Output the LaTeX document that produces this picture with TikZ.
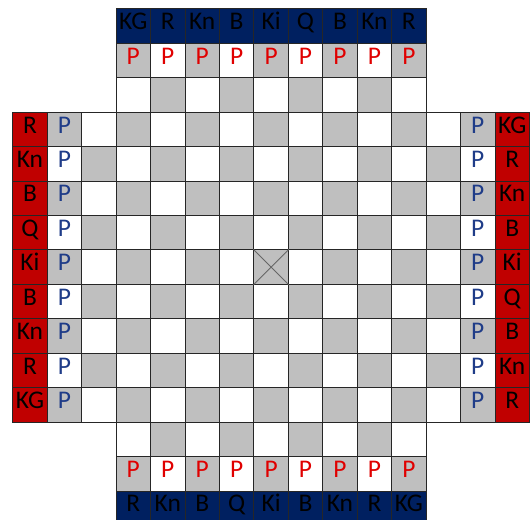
\documentclass[tikz,border=0pt]{standalone}
\usepackage{fontspec}
\setmainfont{Carlito}
\usetikzlibrary{positioning}
\definecolor{boardgray}{HTML}{BFBFBF}
\definecolor{armyblue}{HTML}{002060}
\definecolor{armyred}{HTML}{C00000}
\definecolor{pawnred}{HTML}{E00000}
\definecolor{pawnblue}{HTML}{1F3C88}

\begin{document}
\begin{tikzpicture}[
    x=1cm, y=-1cm,
    square/.style={rectangle, draw=black!85, line width=0.7pt, minimum size=1cm, inner sep=0pt,
        anchor=north west, font=\fontsize{21}{21}\selectfont, text height=0.62em, text depth=0pt},
    tone0/.style={square, fill=boardgray},
    tone1/.style={square, fill=white},
    bluepiece/.style={square, fill=armyblue},
    redpiece/.style={square, fill=armyred},
    pawn/.style={font=\fontsize{21}{21}\selectfont, inner sep=0pt, text height=0.62em, text depth=0pt},
    redpawn/.style={pawn, text=pawnred},
    bluepawn/.style={pawn, text=pawnblue},
    cross/.style={draw=black!60, line width=0.8pt}
]
\useasboundingbox (-0.357,-0.241) rectangle (15.028,14.853);
\clip (-0.357,-0.241) rectangle (15.028,14.853);

% checkered squares: centre band, then the two side arms
\foreach \c in {3,...,11}
  \foreach \r in {1,...,13} {
    \pgfmathtruncatemacro\tone{mod(\c+\r,2)}
    \node[tone\tone] (sq-\c-\r) at (\c,\r) {};
  }
\foreach \c in {1,2,12,13}
  \foreach \r in {3,...,11} {
    \pgfmathtruncatemacro\tone{mod(\c+\r,2)}
    \node[tone\tone] (sq-\c-\r) at (\c,\r) {};
  }

% back rows
\foreach \p [count=\c from 3] in {KG,R,Kn,B,Ki,Q,B,Kn,R}
  \node[bluepiece] (top-\c) at (\c,0) {\p};
\foreach \p [count=\c from 3] in {R,Kn,B,Q,Ki,B,Kn,R,KG}
  \node[bluepiece] (bot-\c) at (\c,14) {\p};
\foreach \p [count=\r from 3] in {R,Kn,B,Q,Ki,B,Kn,R,KG}
  \node[redpiece] (lft-\r) at (0,\r) {\p};
\foreach \p [count=\r from 3] in {KG,R,Kn,B,Ki,Q,B,Kn,R}
  \node[redpiece] (rgt-\r) at (14,\r) {\p};

% pawns
\foreach \c in {3,...,11} {
  \node[redpawn] at (sq-\c-1) {P};
  \node[redpawn] at (sq-\c-13) {P};
}
\foreach \r in {3,...,11} {
  \node[bluepawn] at (sq-1-\r) {P};
  \node[bluepawn] at (sq-13-\r) {P};
}

% centre mark
\draw[cross] (sq-7-7.north west) -- (sq-7-7.south east);
\draw[cross] (sq-7-7.north east) -- (sq-7-7.south west);
\end{tikzpicture}
\end{document}
